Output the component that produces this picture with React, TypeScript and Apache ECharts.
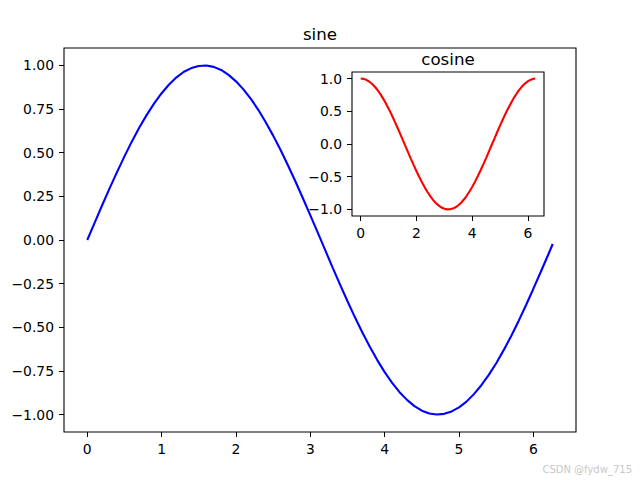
import React, { useEffect, useRef } from "react";
import * as echarts from "echarts";

// sine curve
const sineX = [0, 0.1, 0.2, 0.3, 0.4, 0.5, 0.6, 0.7, 0.8, 0.9, 1.0, 1.1, 1.2, 1.3, 1.4, 1.5, 1.6, 1.7, 1.8, 1.9, 2.0, 2.1, 2.2, 2.3, 2.4, 2.5, 2.6, 2.7, 2.8, 2.9, 3.0, 3.1, 3.2, 3.3, 3.4, 3.5, 3.6, 3.7, 3.8, 3.9, 4.0, 4.1, 4.2, 4.3, 4.4, 4.5, 4.6, 4.7, 4.8, 4.9, 5.0, 5.1, 5.2, 5.3, 5.4, 5.5, 5.6, 5.7, 5.8, 5.9, 6.0, 6.1, 6.2, 6.26];
const sineY = [0, 0.1, 0.199, 0.296, 0.389, 0.479, 0.565, 0.644, 0.717, 0.783, 0.841, 0.891, 0.932, 0.964, 0.985, 0.997, 1.0, 0.992, 0.974, 0.946, 0.909, 0.863, 0.808, 0.746, 0.675, 0.598, 0.516, 0.427, 0.335, 0.239, 0.141, 0.042, -0.058, -0.158, -0.256, -0.351, -0.443, -0.53, -0.612, -0.688, -0.757, -0.818, -0.872, -0.916, -0.952, -0.978, -0.994, -1.0, -0.996, -0.982, -0.959, -0.926, -0.883, -0.832, -0.773, -0.706, -0.631, -0.551, -0.465, -0.374, -0.279, -0.182, -0.083, -0.023];
// cosine curve
const cosX = sineX;
const cosY = [1.0, 0.995, 0.98, 0.955, 0.921, 0.878, 0.825, 0.765, 0.697, 0.622, 0.54, 0.454, 0.362, 0.267, 0.17, 0.071, -0.029, -0.129, -0.227, -0.323, -0.416, -0.505, -0.589, -0.666, -0.737, -0.801, -0.857, -0.904, -0.942, -0.971, -0.99, -0.999, -0.998, -0.987, -0.967, -0.936, -0.897, -0.848, -0.791, -0.726, -0.654, -0.575, -0.49, -0.401, -0.307, -0.211, -0.112, -0.012, 0.087, 0.187, 0.284, 0.378, 0.469, 0.554, 0.635, 0.709, 0.776, 0.835, 0.886, 0.927, 0.96, 0.983, 0.997, 1.0];

const mainXTicks = [0, 1, 2, 3, 4, 5, 6];
const mainYTicks = [-1, -0.75, -0.5, -0.25, 0, 0.25, 0.5, 0.75, 1];
const insetXTicks = [0, 2, 4, 6];
const insetYTicks = [-1, -0.5, 0, 0.5, 1];

const FONT = "DejaVu Sans";
const minus = (s: string) => s.replace("-", "\u2212");

function makeAxis(gridIndex: number, min: number, max: number, ticks: number[], decimals: number) {
  return {
    type: "value",
    gridIndex,
    min,
    max,
    axisLine: { show: false, onZero: false },
    axisTick: { show: true, inside: false, length: 5, lineStyle: { color: "#000", width: 1 }, customValues: ticks },
    splitLine: { show: false },
    axisLabel: {
      color: "#000",
      fontFamily: FONT,
      fontSize: 13.9,
      margin: 10,
      customValues: ticks,
      formatter: (v: number) => minus(v.toFixed(decimals)),
    },
  };
}

export default function App() {
  const ref = useRef<HTMLDivElement>(null);
  useEffect(() => {
    document.body.style.margin = "0";
    const chart = echarts.init(ref.current!, null, { renderer: "svg" });
    const xmax = 6.26;
    const pad = xmax * 0.05;
    chart.setOption({
      animation: false,
      backgroundColor: "#fff",
      grid: [
        { left: 64, top: 48, width: 512, height: 384, show: true, borderColor: "#000", borderWidth: 1.1, backgroundColor: "#fff" },
        { left: 352, top: 72, width: 192, height: 144, show: true, borderColor: "#000", borderWidth: 1.1, backgroundColor: "#fff", z: 5 },
      ],
      xAxis: [
        makeAxis(0, -pad, xmax + pad, mainXTicks, 0),
        makeAxis(1, -pad, xmax + pad, insetXTicks, 0),
      ],
      yAxis: [
        makeAxis(0, -1.1, 1.1, mainYTicks, 2),
        makeAxis(1, -1.1, 1.1, insetYTicks, 1),
      ],
      series: [
        {
          name: "sine", type: "line", xAxisIndex: 0, yAxisIndex: 0,
          data: sineX.map((x, i) => [x, sineY[i]]),
          showSymbol: false,
          lineStyle: { color: "#0000ff", width: 2.1 },
          z: 2,
        },
        {
          name: "cosine", type: "line", xAxisIndex: 1, yAxisIndex: 1,
          data: cosX.map((x, i) => [x, cosY[i]]),
          showSymbol: false,
          lineStyle: { color: "#ff0000", width: 2.1 },
          z: 6,
        },
      ],
      graphic: [
        { type: "text", x: 320, y: 34, z: 10, style: { text: "sine", fontFamily: FONT, fontSize: 16.7, fill: "#000", align: "center", verticalAlign: "middle" } },
        { type: "text", x: 448, y: 58.5, z: 10, style: { text: "cosine", fontFamily: FONT, fontSize: 16.7, fill: "#000", align: "center", verticalAlign: "middle" } },
        { type: "text", x: 632, y: 469, z: 10, style: { text: "CSDN @fydw_715", fontFamily: FONT, fontSize: 10, fill: "#c8c8c8", align: "right", verticalAlign: "middle" } },
      ],
    });
    return () => chart.dispose();
  }, []);
  return <div ref={ref} style={{ width: 640, height: 480, position: "absolute", left: 0, top: 0 }} />;
}
